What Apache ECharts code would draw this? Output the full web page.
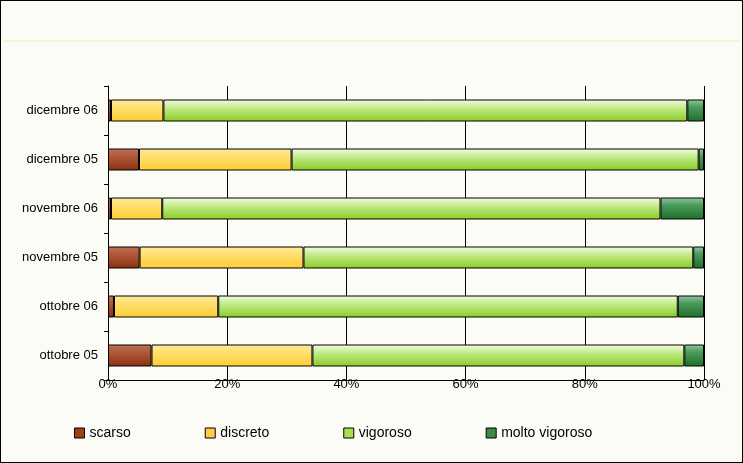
<!DOCTYPE html>
<html>
<head>
<meta charset="utf-8">
<script src="https://cdn.jsdelivr.net/npm/echarts@6/dist/echarts.min.js"></script>
<style>
  html, body { margin: 0; padding: 0; background: #fff; }
  #chart { width: 741px; height: 461px; border: 1px solid #000; background: #fcfcf6; }
</style>
</head>
<body>
<div id="chart"></div>
<script>
const chart = echarts.init(document.getElementById("chart"));

// categories bottom to top
const months = ["ottobre 05", "ottobre 06", "novembre 05", "novembre 06", "dicembre 05", "dicembre 06"];
const scarso = [7.3, 1.0, 5.3, 0.5, 5.2, 0.5];
const discreto = [27.0, 17.5, 27.5, 8.6, 25.6, 8.8];
const vigoroso = [62.4, 77.1, 65.4, 83.6, 68.3, 87.9];
const moltoVigoroso = [3.3, 4.4, 1.8, 7.3, 0.9, 2.8];

function shade(top, mid, bottom) {
  return new echarts.graphic.LinearGradient(0, 0, 0, 1, [
    { offset: 0, color: top },
    { offset: 0.35, color: mid },
    { offset: 1, color: bottom }
  ]);
}

const seriesDefs = [
  { name: "scarso", data: scarso, color: shade("#c0705a", "#b05a3a", "#8a3010"), legend: "#a0401a" },
  { name: "discreto", data: discreto, color: shade("#ffe9a0", "#ffe070", "#ffcc33"), legend: "#ffcc44" },
  { name: "vigoroso", data: vigoroso, color: shade("#f4fbe8", "#c6ec90", "#88cc22"), legend: "#a8e050" },
  { name: "molto vigoroso", data: moltoVigoroso, color: shade("#90c8a0", "#4a9a5a", "#1f6f2a"), legend: "#3a8a48" }
];

chart.setOption({
  animation: false,
  textStyle: { fontFamily: "Liberation Sans, Arial, sans-serif" },
  graphic: [
    { type: "line", shape: { x1: 2, y1: 40, x2: 739, y2: 40 }, style: { stroke: "#fbe9b0", lineWidth: 1 } }
  ],
  legend: {
    left: 68,
    top: 420,
    itemWidth: 10,
    itemHeight: 10,
    itemGap: 74,
    icon: "rect",
    textStyle: { fontSize: 14, color: "#000" },
    data: seriesDefs.map(s => ({ name: s.name, itemStyle: { color: s.legend, borderColor: "#000", borderWidth: 1 } }))
  },
  grid: { left: 107, right: 38, top: 85, height: 294 },
  xAxis: {
    type: "value",
    min: 0,
    max: 100,
    interval: 20,
    axisLabel: { formatter: "{value}%", fontSize: 13, color: "#000", margin: -2 },
    axisLine: { show: true, lineStyle: { color: "#000" } },
    axisTick: { show: false },
    splitLine: { show: true, lineStyle: { color: "#000", width: 1 } }
  },
  yAxis: {
    type: "category",
    data: months,
    axisLabel: { fontSize: 13, color: "#000", margin: 10 },
    axisLine: { show: true, lineStyle: { color: "#000" } },
    axisTick: { show: true, inside: false, length: 4, lineStyle: { color: "#000" } }
  },
  series: seriesDefs.map(s => ({
    name: s.name,
    type: "bar",
    stack: "tot",
    barWidth: 22,
    data: s.data,
    itemStyle: { color: s.color, borderColor: "#000", borderWidth: 1 }
  }))
});
</script>
</body>
</html>
